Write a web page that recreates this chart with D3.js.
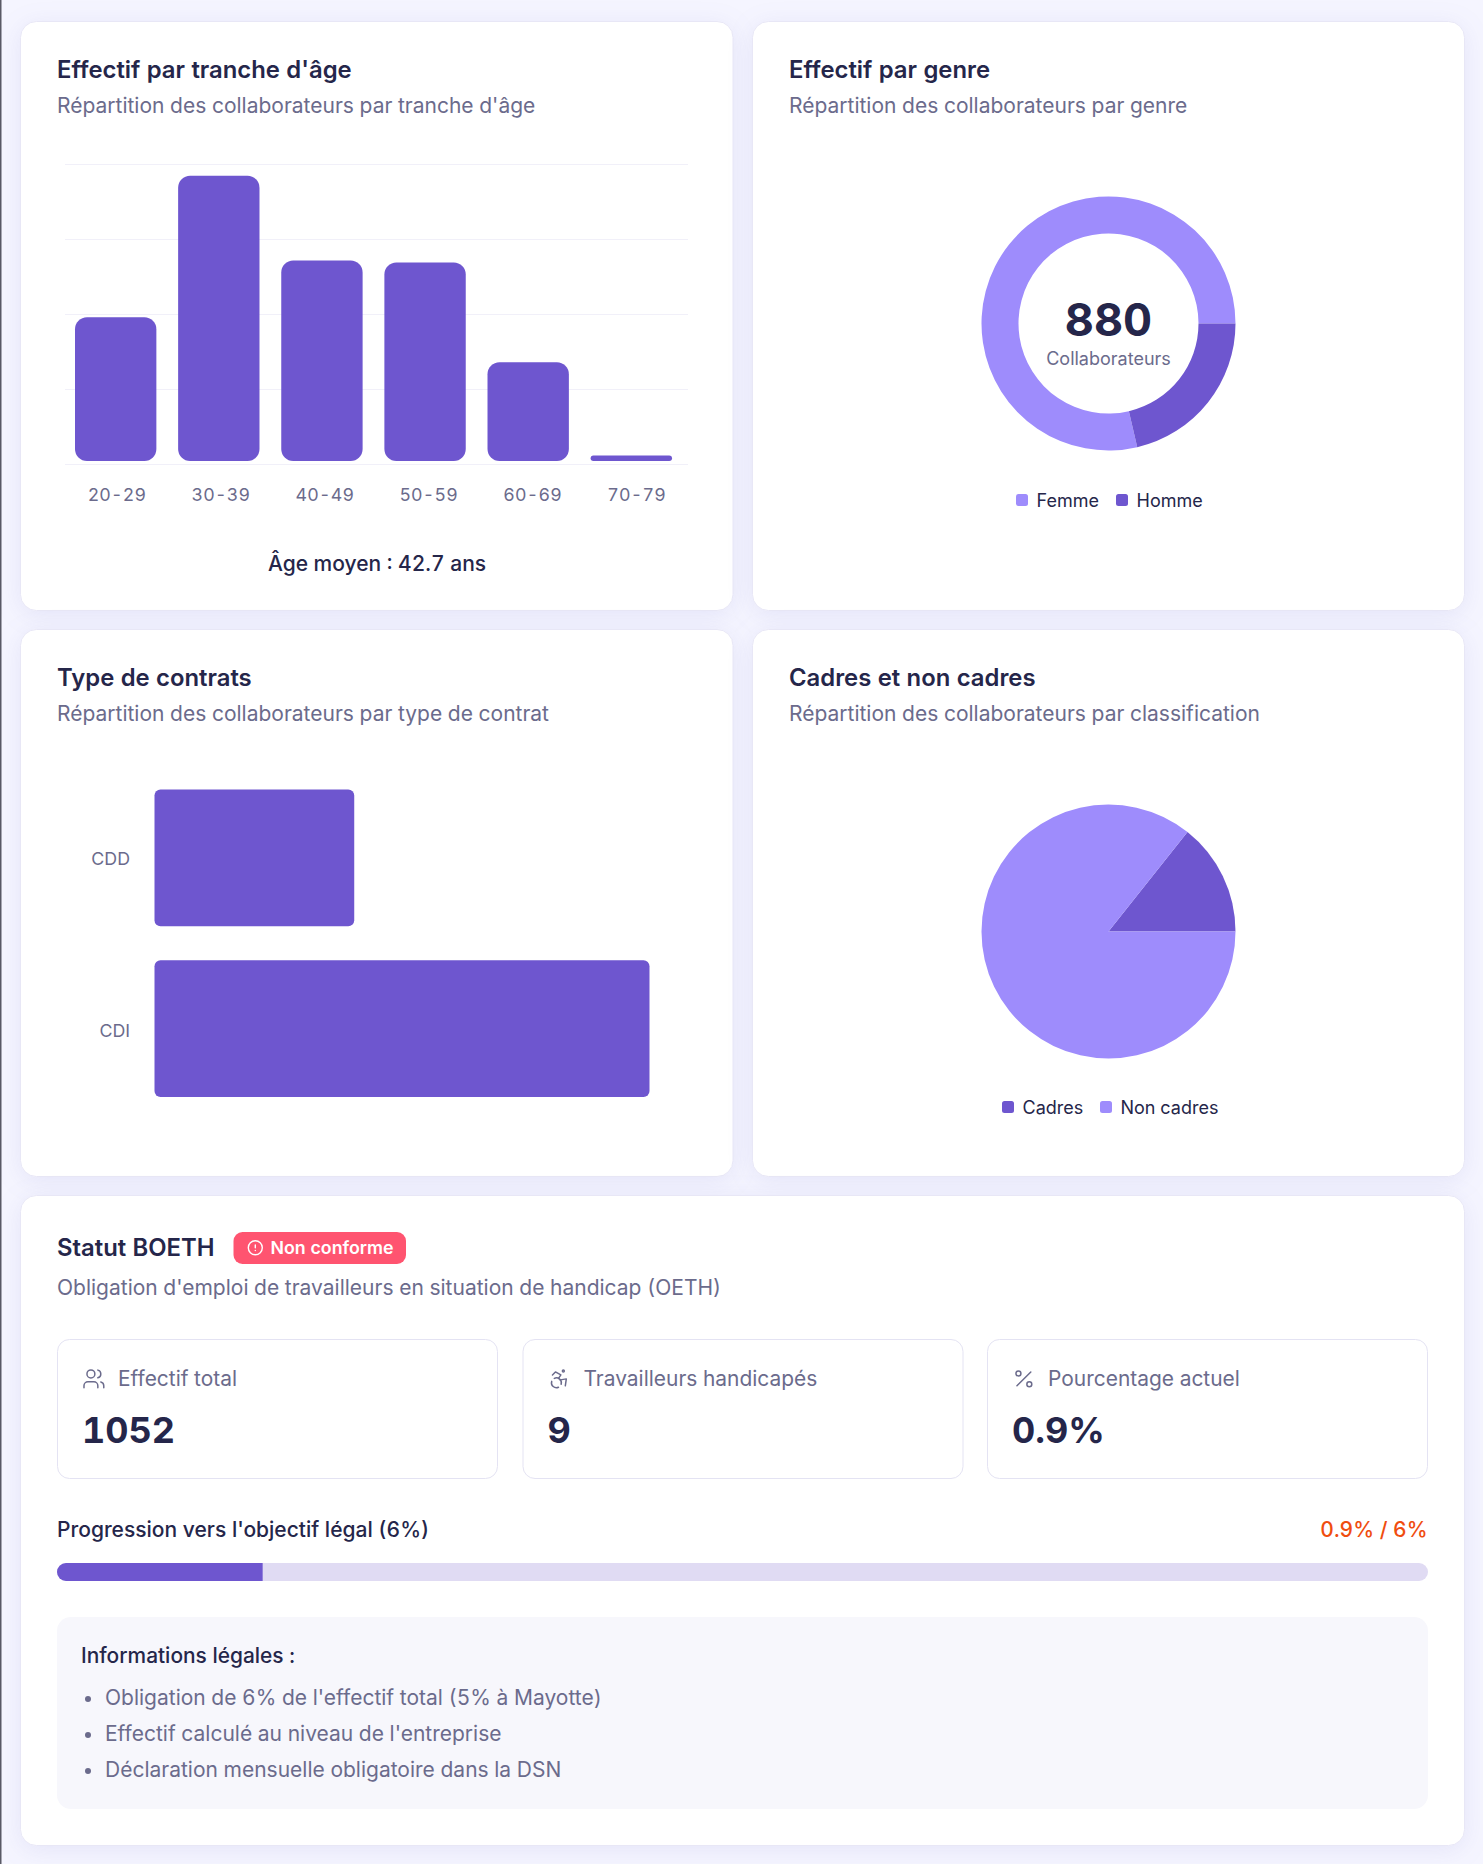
<!DOCTYPE html>
<html lang="fr">
<head>
<meta charset="utf-8">
<title>Effectifs</title>
<script src="https://cdn.jsdelivr.net/npm/d3@7"></script>
<style>
  html, body { margin: 0; padding: 0; background: #f5f5ff; }
  svg { display: block; font-family: Inter, "Noto Sans", sans-serif; font-variant-numeric: tabular-nums; }
  .card { fill: #fff; stroke: #e8e7f6; stroke-width: 1; filter: drop-shadow(0 4px 12px rgba(90,86,190,.10)); }
  .title { font-size: 23.85px; font-weight: 600; fill: #25264a; }
  .sub { font-size: 21px; fill: #6b6b8c; }
  .icon { fill: none; stroke: #6b6b8c; stroke-width: 1.5; stroke-linecap: round; stroke-linejoin: round; }
  .axis path, .axis line { display: none; }
  .axis text { fill: #6b6b8c; }
</style>
</head>
<body>
<div id="chart"></div>
<script>
// Effectif par tranche d'age
var ageLabels = ["20-29", "30-39", "40-49", "50-59", "60-69", "70-79"];
var ageValues = [137, 269, 190, 188, 95, 8];
var ageTicks = [0, 70, 140, 210, 280];

// Effectif par genre
var genreLabels = ["Femme", "Homme"];
var genreValues = [692, 188];

// Type de contrats
var contratLabels = ["CDD", "CDI"];
var contratValues = [253, 627];

// Cadres et non cadres
var cadreLabels = ["Cadres", "Non cadres"];
var cadreValues = [126, 754];

// BOETH
var statLabels = ["Effectif total", "Travailleurs handicapés", "Pourcentage actuel"];
var statValues = ["1052", "9", "0.9%"];
var oethActuel = 0.9;
var oethObjectif = 6;
var legalItems = [
  "Obligation de 6% de l'effectif total (5% à Mayotte)",
  "Effectif calculé au niveau de l'entreprise",
  "Déclaration mensuelle obligatoire dans la DSN"
];

var dark = "#6e56cf", light = "#9e8cfc", ink = "#25264a", muted = "#6b6b8c";

var svg = d3.select("#chart").append("svg").attr("width", 1483).attr("height", 1864);

// thin dark line on the left edge of the screenshot
svg.append("rect").attr("x", 0).attr("y", 0).attr("width", 1.5).attr("height", 1864).attr("fill", "#5a5a66");

function txt(x, y, s, size, weight, color, anchor) {
  return svg.append("text").attr("x", x).attr("y", y).text(s)
    .attr("font-size", size).attr("font-weight", weight || 400)
    .attr("fill", color || ink).attr("text-anchor", anchor || "start");
}

function card(x, y, w, h, title, sub) {
  svg.append("rect").attr("class", "card").attr("x", x).attr("y", y)
    .attr("width", w).attr("height", h).attr("rx", 16).attr("ry", 16);
  if (title) {
    svg.append("text").attr("class", "title").attr("x", x + 36.5).attr("y", y + 56.5).text(title);
    svg.append("text").attr("class", "sub").attr("x", x + 36.5).attr("y", y + 91.5).text(sub);
  }
}

card(20.5, 21.5, 712.5, 589, "Effectif par tranche d'âge", "Répartition des collaborateurs par tranche d'âge");
card(752.5, 21.5, 712, 589, "Effectif par genre", "Répartition des collaborateurs par genre");
card(20.5, 629.5, 712.5, 547, "Type de contrats", "Répartition des collaborateurs par type de contrat");
card(752.5, 629.5, 712, 547, "Cadres et non cadres", "Répartition des collaborateurs par classification");
card(20.5, 1195.5, 1444, 650);

// ---- age bars
var yAge = d3.scaleLinear().domain([0, 280]).range([464, 164]);
var xAgeAxis = d3.scaleBand().domain(ageLabels).range([65, 688.5]);
var xAgeBars = d3.scaleBand().domain(ageLabels).range([75, 672]).paddingInner(.211).paddingOuter(0);

svg.append("g").selectAll("line").data(ageTicks).join("line")
  .attr("x1", 65).attr("x2", 688)
  .attr("y1", function(d) { return yAge(d) + .5; })
  .attr("y2", function(d) { return yAge(d) + .5; })
  .attr("stroke", "#f1f0f9").attr("stroke-width", 1);

svg.append("g").selectAll("rect").data(ageValues).join("rect")
  .attr("x", function(d, i) { return xAgeBars(ageLabels[i]); })
  .attr("y", function(d) { return yAge(d); })
  .attr("width", xAgeBars.bandwidth())
  .attr("height", function(d) { return yAge(0) - 3 - yAge(d); })
  .attr("rx", function(d) { return Math.min(12, (yAge(0) - 3 - yAge(d)) / 2); })
  .attr("ry", function(d) { return Math.min(12, (yAge(0) - 3 - yAge(d)) / 2); })
  .attr("fill", dark);

svg.append("g").attr("class", "axis").attr("transform", "translate(0,464)")
  .call(d3.axisBottom(xAgeAxis).tickSize(0).tickPadding(0))
  .selectAll("text").attr("y", 37).attr("dy", 0)
  .attr("font-family", "Inter").attr("font-size", 17.8).style("letter-spacing", ".2px");

txt(377, 571, "Âge moyen : 42.7 ans", 21, 500, ink, "middle");

// ---- genre donut
var arcDonut = d3.arc().innerRadius(90).outerRadius(127);
// starts at 3 o'clock and runs counter clockwise
var pieCcw = d3.pie().sort(null).startAngle(Math.PI / 2).endAngle(Math.PI / 2 - 2 * Math.PI);
var gDonut = svg.append("g").attr("transform", "translate(1108.5,323.5)");
gDonut.selectAll("path").data(pieCcw(genreValues)).join("path")
  .attr("d", arcDonut)
  .attr("fill", function(d, i) { return i === 0 ? light : dark; });

txt(1108.5, 336, d3.sum(genreValues), 45, 700, ink, "middle");
txt(1108.5, 365, "Collaborateurs", 18, 400, muted, "middle");

function legend(items, colors, swatchX, textX, y) {
  items.forEach(function(s, i) {
    svg.append("rect").attr("x", swatchX[i]).attr("y", y - 6).attr("width", 12).attr("height", 12)
      .attr("rx", 2.5).attr("fill", colors[i]);
    txt(textX[i], y + 6.5, s, 18, 400, ink);
  });
}
legend(genreLabels, [light, dark], [1016, 1116], [1036.5, 1136.5], 500);

// ---- contrats
var xContrat = d3.scaleLinear().domain([0, 627]).range([154.5, 649.5]);
var yContrat = d3.scaleBand().domain(contratLabels).range([789.5, 1097]).paddingInner(.2);
// the tick labels sit slightly further apart than the bars
var yContratAxis = d3.scaleBand().domain(contratLabels).range([789.5, 1099.5]).paddingInner(.2);

svg.append("g").selectAll("rect").data(contratValues).join("rect")
  .attr("x", xContrat(0))
  .attr("y", function(d, i) { return yContrat(contratLabels[i]); })
  .attr("width", function(d) { return xContrat(d) - xContrat(0); })
  .attr("height", yContrat.bandwidth())
  .attr("rx", 6).attr("ry", 6)
  .attr("fill", dark);

svg.append("g").attr("class", "axis").attr("transform", "translate(130,0)")
  .call(d3.axisLeft(yContratAxis).tickSize(0).tickPadding(0))
  .selectAll("text").attr("font-family", "Inter").attr("font-size", 17.8).attr("x", 0).attr("dy", ".35em");

// ---- cadres
var arcPie = d3.arc().innerRadius(0).outerRadius(127);
var gPie = svg.append("g").attr("transform", "translate(1108.5,931.5)");
gPie.selectAll("path").data(pieCcw(cadreValues)).join("path")
  .attr("d", arcPie)
  .attr("fill", function(d, i) { return i === 0 ? dark : light; });
legend(cadreLabels, [dark, light], [1002, 1100], [1022.5, 1120.5], 1107);

// ---- BOETH
txt(57, 1255.5, "Statut BOETH", 23.85, 600, ink);
svg.append("rect").attr("x", 233.5).attr("y", 1232).attr("width", 172.5).attr("height", 32)
  .attr("rx", 9).attr("fill", "#ff5470");
var alertIcon = svg.append("g").attr("transform", "translate(246.9,1239.3) scale(.7)")
  .attr("fill", "none").attr("stroke", "#fff").attr("stroke-width", 2).attr("stroke-linecap", "round");
alertIcon.append("circle").attr("cx", 12).attr("cy", 12).attr("r", 10);
alertIcon.append("path").attr("d", "M12 8v4M12 16h.01");
txt(270.5, 1254, "Non conforme", 17.8, 600, "#fff");
txt(57, 1295, "Obligation d'emploi de travailleurs en situation de handicap (OETH)", 21, 400, muted);

var statX = [57, 522.5, 987];
var iconMarkup = [
  '<path d="M16 21v-2a4 4 0 0 0-4-4H6a4 4 0 0 0-4 4v2"/><circle cx="9" cy="7" r="4"/><path d="M22 21v-2a4 4 0 0 0-3-3.87"/><path d="M16 3.13a4 4 0 0 1 0 7.75"/>',
  '<circle cx="16" cy="4" r="1"/><path d="m18 19 1-7-6 1"/><path d="m5 8 3-3 5.5 3-2.36 3.5"/><path d="M4.24 14.5a5 5 0 0 0 6.88 6"/><path d="M13.76 17.5a5 5 0 0 0-6.88-6"/>',
  '<line x1="19" x2="5" y1="5" y2="19"/><circle cx="6.5" cy="6.5" r="2.5"/><circle cx="17.5" cy="17.5" r="2.5"/>'
];
statLabels.forEach(function(s, i) {
  svg.append("rect").attr("x", statX[i] + .5).attr("y", 1339.5).attr("width", 440).attr("height", 139)
    .attr("rx", 12).attr("fill", "#fff").attr("stroke", "#e4e3f3");
  svg.append("g").attr("class", "icon").attr("transform", "translate(" + (statX[i] + 25) + ",1367) scale(.99)")
    .html(iconMarkup[i]);
  txt(statX[i] + 61, 1386, s, 20.95, 400, muted);
  txt(statX[i] + 25, 1443, statValues[i], 36, 700, ink);
});

txt(57, 1537, "Progression vers l'objectif légal (6%)", 21, 500, ink);
txt(1427.5, 1537, oethActuel + "% / " + oethObjectif + "%", 21, 500, "#f04d0f", "end");

var xProg = d3.scaleLinear().domain([0, oethObjectif]).range([57, 1428]);
svg.append("clipPath").attr("id", "progClip").append("rect")
  .attr("x", 57).attr("y", 1563).attr("width", 1371).attr("height", 18).attr("rx", 9);
var gProg = svg.append("g").attr("clip-path", "url(#progClip)");
gProg.append("rect").attr("x", xProg(0)).attr("y", 1563).attr("width", xProg(oethObjectif) - xProg(0)).attr("height", 18).attr("fill", "#e0dbf3");
gProg.append("rect").attr("x", xProg(0)).attr("y", 1563).attr("width", xProg(oethActuel) - xProg(0)).attr("height", 18).attr("fill", dark);

svg.append("rect").attr("x", 57).attr("y", 1617).attr("width", 1371).attr("height", 192)
  .attr("rx", 14).attr("fill", "#f7f7fc");
txt(81, 1663, "Informations légales :", 20.9, 500, ink);
var legalY = [1705, 1741, 1777];
legalItems.forEach(function(s, i) {
  svg.append("circle").attr("cx", 88).attr("cy", legalY[i] - 6).attr("r", 3).attr("fill", muted);
  txt(105, legalY[i], s, 21, 400, muted);
});
</script>
</body>
</html>
